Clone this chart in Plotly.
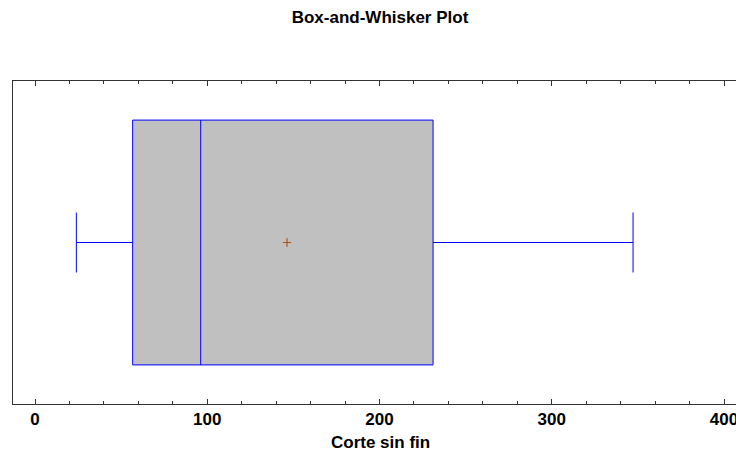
import plotly.graph_objects as go

# Data
variable = ["Corte sin fin"]
lower_whisker = [24.0]
q1 = [56.7]
median = [96.2]
q3 = [231.1]
upper_whisker = [347.2]
mean = [146.3]
tick_vals = [0, 100, 200, 300, 400]
tick_text = ["0", "100", "200", "300", "400"]

FONT = "Liberation Sans, Arial, sans-serif"

fig = go.Figure()
fig.add_trace(go.Box(
    y=[0], q1=q1, median=median, q3=q3,
    lowerfence=lower_whisker, upperfence=upper_whisker,
    orientation="h", width=0.758, whiskerwidth=0.245,
    fillcolor="#C0C0C0", line=dict(color="#0000FF", width=1),
    boxpoints=False, showlegend=False, hoverinfo="skip",
))
fig.add_trace(go.Scatter(
    x=mean, y=[0], mode="markers",
    marker=dict(symbol="cross-thin", size=6, line=dict(color="#B0501E", width=1.2)),
    showlegend=False, hoverinfo="skip",
))

fig.update_layout(
    width=736, height=452,
    margin=dict(l=13, r=0, t=81, b=48, autoexpand=False),
    paper_bgcolor="white", plot_bgcolor="white",
    font=dict(family=FONT, color="black"),
    title=dict(text="<b>Box-and-Whisker Plot</b>", x=380/736, xanchor="center",
               y=1 - 17/452, yanchor="middle", font=dict(size=17, family=FONT)),
    xaxis=dict(
        range=[(13 - 35) / 1.7225, (736 - 35) / 1.7225],
        tickvals=tick_vals, ticktext=tick_text,
        tickfont=dict(size=17, family=FONT, weight="bold"),
        ticklabeloverflow="allow", automargin=False,
        ticks="inside", ticklen=5, tickcolor="#333333", tickwidth=1,
        minor=dict(dtick=20, ticks="inside", ticklen=3, tickcolor="#333333", tickwidth=1,
                   showgrid=False),
        showline=True, linecolor="#333333", linewidth=1, mirror="allticks",
        showgrid=False, zeroline=False, fixedrange=True,
    ),
    yaxis=dict(
        range=[-0.5, 0.5], showticklabels=False, ticks="", automargin=False,
        showline=True, linecolor="#333333", linewidth=1, mirror=False,
        showgrid=False, zeroline=False, fixedrange=True,
    ),
    annotations=[dict(
        text="<b>Corte sin fin</b>", xref="paper", yref="paper",
        x=(380 - 13) / 723, y=-(442 - 404) / 323, xanchor="center", yanchor="middle",
        showarrow=False, font=dict(size=17, family=FONT),
    )],
)

fig.write_html("out.html")
